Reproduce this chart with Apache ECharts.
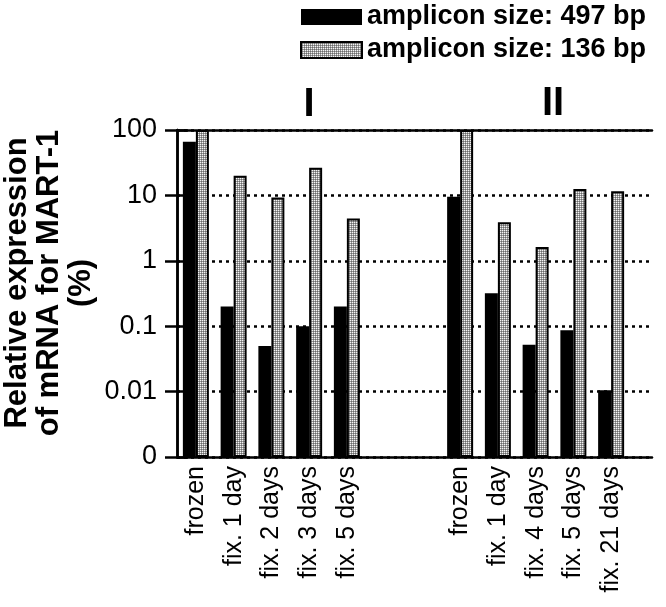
<!DOCTYPE html>
<html>
<head>
<meta charset="utf-8">
<script src="https://cdn.jsdelivr.net/npm/echarts@6/dist/echarts.min.js"></script>
<style>
html,body{margin:0;padding:0;background:#fff;}
#chart{width:666px;height:607px;}
</style>
</head>
<body>
<div id="chart"></div>
<script>
// ---- data ----
var groupICategories = ['frozen', 'fix. 1 day', 'fix. 2 days', 'fix. 3 days', 'fix. 5 days'];
var groupIICategories = ['frozen', 'fix. 1 day', 'fix. 4 days', 'fix. 5 days', 'fix. 21 days'];
var groupI497 = [66, 0.2, 0.05, 0.1, 0.2];
var groupI136 = [100, 20, 9.3, 26.5, 4.45];
var groupII497 = [9.5, 0.32, 0.052, 0.087, 0.0105];
var groupII136 = [100, 3.9, 1.63, 12.5, 11.6];
var yTickLabels = ['0', '0.01', '0.1', '1', '10', '100'];
var seriesNames = ['amplicon size: 497 bp', 'amplicon size: 136 bp'];
var groupLabels = ['I', 'II'];

var gap = ['', ''];
var gapVals = ['-', '-'];
var categories = groupICategories.concat(gap, groupIICategories);
var vals497 = groupI497.concat(gapVals, groupII497);
var vals136 = groupI136.concat(gapVals, groupII136);

// stipple pattern
var pc = document.createElement('canvas');
pc.width = 2; pc.height = 2;
var pctx = pc.getContext('2d');
pctx.fillStyle = '#f4f4f4'; pctx.fillRect(0, 0, 1, 1);
pctx.fillStyle = '#9a9a9a'; pctx.fillRect(1, 0, 1, 1); pctx.fillRect(0, 1, 1, 1);
pctx.fillStyle = '#6a6a6a'; pctx.fillRect(1, 1, 1, 1);
var pattern = { image: pc, repeat: 'repeat' };

var FONT = "'Liberation Sans', Arial, Helvetica, sans-serif";
var LW = 2.5;

var chart = echarts.init(document.getElementById('chart'), null, { renderer: 'canvas' });
var option = {
  backgroundColor: '#fff',
  animation: false,
  legend: {
    orient: 'vertical',
    left: 295,
    top: 0,
    padding: [2, 5, 2, 5],
    itemWidth: 61,
    itemHeight: 16,
    itemGap: 3,
    icon: 'rect',
    textStyle: { fontFamily: FONT, fontWeight: 'bold', fontSize: 27, color: '#000', lineHeight: 30 },
    data: seriesNames
  },
  grid: [
    { left: 177, right: 36, top: 130, bottom: 150 },
    { left: 177, right: 14, top: 130, bottom: 150 }
  ],
  xAxis: [
    {
      type: 'category', gridIndex: 0, data: categories,
      axisLine: { show: false }, axisTick: { show: false },
      axisLabel: { rotate: 90, interval: 0, margin: 9, fontFamily: FONT, fontSize: 25, color: '#000' }
    },
    {
      type: 'value', gridIndex: 1, min: 0, max: 1, position: 'bottom', z: 5,
      axisLine: { show: true, lineStyle: { color: '#000', width: LW } },
      axisTick: { show: false }, axisLabel: { show: false }, splitLine: { show: false }
    },
    {
      type: 'value', gridIndex: 1, min: 0, max: 1, position: 'top', z: 5,
      axisLine: { show: true, lineStyle: { color: '#000', width: LW } },
      axisTick: { show: false }, axisLabel: { show: false }, splitLine: { show: false }
    }
  ],
  yAxis: [
    {
      type: 'log', gridIndex: 0, logBase: 10, min: 0.001, max: 100, startValue: 0.001,
      axisLine: { show: true, lineStyle: { color: '#000', width: LW } },
      axisTick: { show: true, inside: false, length: 12, lineStyle: { color: '#000', width: LW } },
      axisLabel: {
        margin: 20, fontFamily: FONT, fontSize: 27, color: '#000',
        formatter: function (v, i) { return yTickLabels[i]; }
      },
      splitLine: { show: false }
    },
    {
      type: 'log', gridIndex: 1, logBase: 10, min: 0.001, max: 100, position: 'right',
      axisLine: { show: true, lineStyle: { color: '#000', width: LW } },
      axisTick: { show: true, inside: false, length: 11, lineStyle: { color: '#000', width: LW } },
      axisLabel: { show: false },
      splitLine: { show: true, lineStyle: { color: '#000', width: 2.5, type: [3, 4] } }
    }
  ],
  series: [
    {
      name: seriesNames[0], type: 'bar', xAxisIndex: 0, yAxisIndex: 0,
      data: vals497, barWidth: 13, barGap: '0%',
      itemStyle: { color: '#000' }
    },
    {
      name: seriesNames[1], type: 'bar', xAxisIndex: 0, yAxisIndex: 0,
      data: vals136, barWidth: 13, barGap: '0%',
      itemStyle: { color: pattern, borderColor: '#000', borderWidth: 2 }
    }
  ],
  graphic: [
    {
      type: 'text', x: 49, y: 283, rotation: Math.PI / 2,
      style: {
        text: 'Relative expression\nof mRNA for MART-1\n(%)',
        font: 'bold 31px ' + FONT, fill: '#000',
        align: 'center', verticalAlign: 'middle', lineHeight: 32
      }
    },
    {
      type: 'text', x: 309, y: 105,
      style: { text: groupLabels[0], font: 'bold 40px ' + FONT, fill: '#000', align: 'center', verticalAlign: 'middle' }
    },
    {
      type: 'text', x: 553, y: 104,
      style: { text: groupLabels[1], font: 'bold 40px ' + FONT, fill: '#000', align: 'center', verticalAlign: 'middle' }
    }
  ]
};
chart.setOption(option);
</script>
</body>
</html>
